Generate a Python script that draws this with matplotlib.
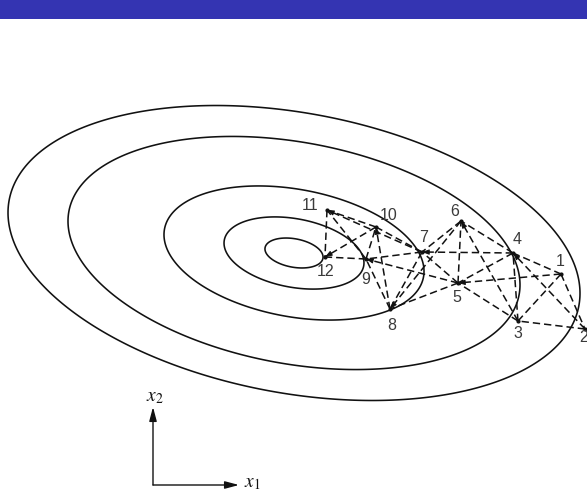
import numpy as np
import matplotlib.pyplot as plt

plt.rcParams['mathtext.fontset'] = 'stix'

# simplex vertices in the (x1, x2) plane
point_ids = [1, 2, 3, 4, 5, 6, 7, 8, 9, 10, 11, 12]
x1_vals = [561, 585, 518, 513, 458, 461, 422, 390, 366, 376, 327, 325]
x2_vals = [219, 164, 172, 240, 210, 272, 241, 184, 234, 266, 283, 236]

# label offsets (pixels) for the vertex numbers
label_dx = [-1, -1, 0, 4, -1, -6, 2, 2, 0, 13, -17, 1]
label_dy = [12, -9, -13, 13, -14, 9, 14, -16, -21, 12, 4, -15]

# simplices visited by the search
simplices = [(1, 2, 3), (1, 3, 4), (3, 4, 5), (4, 5, 6), (5, 6, 7),
             (5, 7, 8), (7, 8, 9), (7, 9, 10), (9, 10, 11), (9, 11, 12)]
# reflections: (dropped vertex, new vertex)
reflections = [(2, 4), (1, 5), (3, 6), (4, 7), (6, 8),
               (5, 9), (8, 10), (7, 11), (10, 12)]

# objective contours: quadratic form around the minimum
center = (294, 240)
q_a, q_b, q_c = 1.0, 1.06, 3.76
contour_levels = [780, 4530, 15640, 47260, 75680]

pos = {pid: (x, y) for pid, x, y in zip(point_ids, x1_vals, x2_vals)}

fig = plt.figure(figsize=(5.87, 4.93), dpi=100)
ax = fig.add_axes([0, 0, 1, 1])
ax.set_xlim(0, 587)
ax.set_ylim(0, 493)
ax.axis('off')

# header band
ax.axhspan(474, 493, color='#3434B2', lw=0)

gx, gy = np.meshgrid(np.linspace(0, 587, 900), np.linspace(0, 493, 760))
u = gx - center[0]
w = gy - center[1]
f = q_a * u**2 + q_b * u * w + q_c * w**2
ax.contour(gx, gy, f, levels=contour_levels, colors='#111111', linewidths=1.15)

# dashed simplex edges and reflection lines
edges = set()
for s in simplices:
    for i in range(3):
        for j in range(i + 1, 3):
            edges.add(tuple(sorted((s[i], s[j]))))
for a, b in reflections:
    edges.add(tuple(sorted((a, b))))

dash = (0, (4.8, 2.6))
for a, b in sorted(edges):
    ax.plot([pos[a][0], pos[b][0]], [pos[a][1], pos[b][1]],
            color='#111111', lw=1.1, linestyle=dash)

# small arrowheads at new vertices
for a, b in reflections:
    p0 = np.array(pos[a], float)
    p1 = np.array(pos[b], float)
    d = (p1 - p0) / np.hypot(*(p1 - p0))
    ax.annotate('', xy=p1, xytext=p1 - 6 * d,
                arrowprops=dict(arrowstyle='-|>,head_length=0.6,head_width=0.22',
                                color='#111111', lw=0.7, mutation_scale=7,
                                shrinkA=0, shrinkB=0))

ax.plot(x1_vals, x2_vals, 'o', color='#111111', ms=2)

for pid, x, y, dx, dy in zip(point_ids, x1_vals, x2_vals, label_dx, label_dy):
    ax.annotate(str(pid), (x, y), xytext=(dx, dy), textcoords='offset pixels',
                ha='center', va='center', fontsize=11.5, color='#3a3a3a',
                family='Liberation Sans')

# coordinate axes sketch
ax.annotate('', xy=(153, 86), xytext=(153, 8),
            arrowprops=dict(arrowstyle='-|>,head_length=0.6,head_width=0.16',
                            color='#111111', lw=1.0, mutation_scale=14,
                            shrinkA=0, shrinkB=0))
ax.annotate('', xy=(239, 8), xytext=(153, 8),
            arrowprops=dict(arrowstyle='-|>,head_length=0.6,head_width=0.16',
                            color='#111111', lw=1.0, mutation_scale=14,
                            shrinkA=0, shrinkB=0))
ax.text(146, 96, '$x_2$', fontsize=14, ha='left', va='center', color='#111111')
ax.text(244, 10, '$x_1$', fontsize=14, ha='left', va='center', color='#111111')

plt.savefig('out.png', dpi=100)
